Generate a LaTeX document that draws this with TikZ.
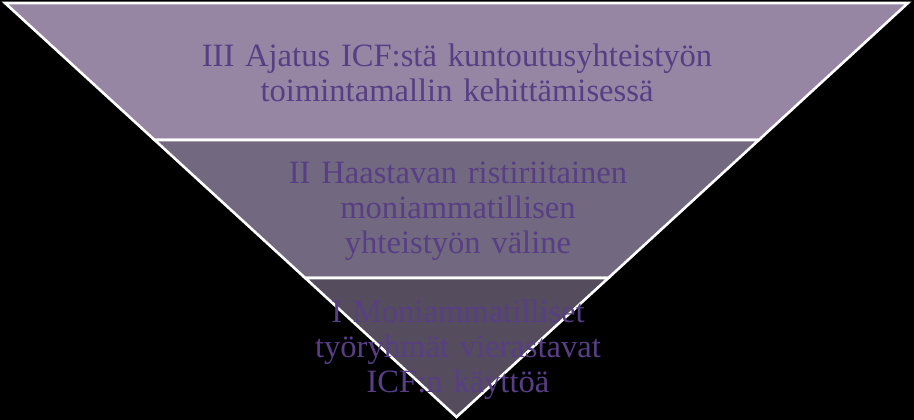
\documentclass[tikz,border=0pt]{standalone}
\usepackage{fontspec}
\setmainfont{Liberation Serif}
\definecolor{bandtop}{RGB}{150,134,164}
\definecolor{bandmid}{RGB}{114,104,128}
\definecolor{bandbot}{RGB}{85,76,94}
\definecolor{txtpurple}{RGB}{88,62,132}
\newcommand{\lblfont}{\fontsize{32.6}{35}\selectfont\spaceskip=0.33em\relax}
\begin{document}
\begin{tikzpicture}[x=1pt,y=1pt,
  band/.style={draw=white,line width=2.6pt,line join=miter},
  lbl/.style={text=txtpurple,align=center,inner sep=0pt,font=\lblfont}]
\fill[black] (0,0) rectangle (914,420);
\useasboundingbox (0,0) rectangle (914,420);
\coordinate (A) at (5,417);
\coordinate (B) at (908,417);
\coordinate (L1) at (154.6,280);
\coordinate (R1) at (758.8,280);
\coordinate (L2) at (305.2,142);
\coordinate (R2) at (608.4,142);
\coordinate (P) at (456.5,3);
\draw[band,fill=bandtop] (A) -- (B) -- (R1) -- (L1) -- cycle;
\draw[band,fill=bandmid] (L1) -- (R1) -- (R2) -- (L2) -- cycle;
\draw[band,fill=bandbot] (L2) -- (R2) -- (P) -- cycle;
\node[lbl] (t3) at (457,347) {III Ajatus ICF:stä kuntoutusyhteistyön\\toimintamallin kehittämisessä};
\node[lbl] (t2) at (458,209) {II Haastavan ristiriitainen\\moniammatillisen\\yhteistyön väline};
\node[lbl] (t1) at (458,70) {I Moniammatilliset\\työryhmät vierastavat\\ICF:n käyttöä};
\end{tikzpicture}
\end{document}
